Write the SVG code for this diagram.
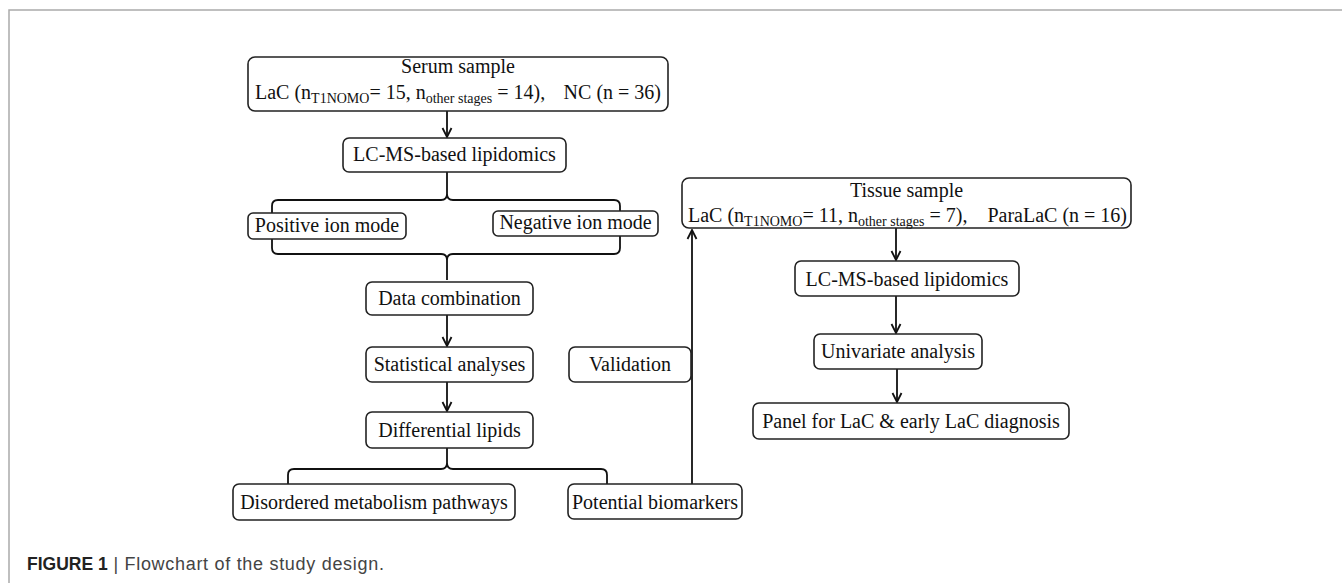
<svg xmlns="http://www.w3.org/2000/svg" width="1342" height="583" viewBox="0 0 1342 583">
<style>
.box{fill:#fff;stroke:#222;stroke-width:1.6}
.t{font-family:"Liberation Serif","Times New Roman",serif;font-size:20px;fill:#111}
.c{text-anchor:middle}
.sub{font-size:14px}
.ln{fill:none;stroke:#111;stroke-width:1.8}
.frame{stroke:#aaa;stroke-width:1.5;fill:none}
</style>
<defs>
<marker id="ah" viewBox="-11 -6 12 12" markerWidth="12" markerHeight="12" refX="0" refY="0" orient="auto" markerUnits="userSpaceOnUse">
<path d="M-9,-4.5 L0,0 L-9,4.5" fill="none" stroke="#111" stroke-width="1.8"/>
</marker>
</defs>
<rect width="1342" height="583" fill="#fff"/>
<path class="frame" d="M9,583 L9,10 L1342,10"/>

<g id="connectors">
<line class="ln" x1="447" y1="111" x2="447" y2="137" marker-end="url(#ah)"/>
<path class="ln" d="M447,172 L447,194 Q447,200 441,200 L278,200 Q272,200 272,206 L272,214 M447,194 Q447,200 453,200 L614,200 Q620,200 620,206 L620,212"/>
<path class="ln" d="M272,239 L272,248 Q272,254 278,254 L441,254 Q447,254 447,260 L447,280 M620,236 L620,248 Q620,254 614,254 L453,254 Q447,254 447,260"/>
<line class="ln" x1="447" y1="315" x2="447" y2="346" marker-end="url(#ah)"/>
<line class="ln" x1="447" y1="382" x2="447" y2="411" marker-end="url(#ah)"/>
<path class="ln" d="M447,448 L447,463 Q447,469 441,469 L294,469 Q288,469 288,475 L288,484 M447,463 Q447,469 453,469 L601,469 Q607,469 607,475 L607,484"/>
<line class="ln" x1="692" y1="484" x2="692" y2="230" marker-end="url(#ah)"/>
<line class="ln" x1="896" y1="228" x2="896" y2="260" marker-end="url(#ah)"/>
<line class="ln" x1="896" y1="296" x2="896" y2="333" marker-end="url(#ah)"/>
<line class="ln" x1="897" y1="369" x2="897" y2="402" marker-end="url(#ah)"/>
</g>

<g id="serum">
<rect class="box" x="248" y="57" width="420" height="54" rx="7"/>
<text class="t c" x="458" y="73">Serum sample</text>
<text class="t" x="255" y="99">LaC (n<tspan class="sub" dy="4">T1NOMO</tspan><tspan dy="-4">= 15, n</tspan><tspan class="sub" dy="4">other stages</tspan><tspan dy="-4"> = 14),</tspan></text>
<text class="t" x="661" y="99" text-anchor="end">NC (n = 36)</text>
</g>

<g id="lcms1">
<rect class="box" x="343" y="138" width="223" height="34" rx="6"/>
<text class="t c" x="454.5" y="161">LC-MS-based lipidomics</text>
</g>

<g id="positive">
<rect class="box" x="248" y="213" width="158" height="26" rx="5"/>
<text class="t c" x="327" y="232">Positive ion mode</text>
</g>

<g id="negative">
<rect class="box" x="493" y="211" width="165" height="25" rx="5"/>
<text class="t c" x="575.5" y="229">Negative ion mode</text>
</g>

<g id="datacomb">
<rect class="box" x="366" y="282" width="167" height="33" rx="6"/>
<text class="t c" x="449.5" y="305">Data combination</text>
</g>

<g id="stat">
<rect class="box" x="366" y="347" width="167" height="35" rx="6"/>
<text class="t c" x="449.5" y="371">Statistical analyses</text>
</g>

<g id="diff">
<rect class="box" x="366" y="412" width="167" height="36" rx="6"/>
<text class="t c" x="449.5" y="437">Differential lipids</text>
</g>

<g id="disordered">
<rect class="box" x="233" y="484" width="282" height="36" rx="6"/>
<text class="t c" x="374" y="509">Disordered metabolism pathways</text>
</g>

<g id="biomarkers">
<rect class="box" x="568" y="484" width="174" height="35" rx="6"/>
<text class="t c" x="655" y="509">Potential biomarkers</text>
</g>

<g id="validation">
<rect class="box" x="569" y="347" width="122" height="35" rx="6"/>
<text class="t c" x="630" y="371">Validation</text>
</g>

<g id="tissue">
<rect class="box" x="682" y="178" width="449" height="50" rx="7"/>
<text class="t c" x="906.5" y="197">Tissue sample</text>
<text class="t" x="688" y="222">LaC (n<tspan class="sub" dy="4">T1NOMO</tspan><tspan dy="-4">= 11, n</tspan><tspan class="sub" dy="4">other stages</tspan><tspan dy="-4"> = 7),</tspan></text>
<text class="t" x="1127" y="222" text-anchor="end">ParaLaC (n = 16)</text>
</g>

<g id="lcms2">
<rect class="box" x="795" y="261" width="224" height="35" rx="6"/>
<text class="t c" x="907" y="286">LC-MS-based lipidomics</text>
</g>

<g id="univariate">
<rect class="box" x="814" y="334" width="168" height="35" rx="6"/>
<text class="t c" x="898" y="358">Univariate analysis</text>
</g>

<g id="panel">
<rect class="box" x="753" y="403" width="316" height="36" rx="6"/>
<text class="t c" x="911" y="428">Panel for LaC &amp; early LaC diagnosis</text>
</g>

<g id="caption">
<text x="27" y="570" font-family="'Liberation Sans',Arial,sans-serif" font-size="17.5" fill="#222"><tspan font-weight="bold">FIGURE 1</tspan><tspan fill="#444" font-size="18" letter-spacing="0.7"> | Flowchart of the study design.</tspan></text>
</g>
</svg>
